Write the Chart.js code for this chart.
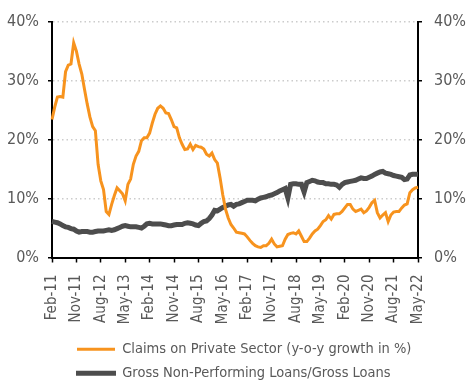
<!DOCTYPE html>
<html>
<head>
<meta charset="utf-8">
<script src="https://cdn.jsdelivr.net/npm/chart.js@4.4.1/dist/chart.umd.min.js"></script>
<style>
  html, body { margin: 0; padding: 0; background: #fff; }
</style>
</head>
<body>
<canvas id="creditChart" width="474" height="384"></canvas>
<script>
// ! monthly series, Feb-11 .. May-22

const tickLabels = [
  "Feb-11", "Nov-11", "Aug-12", "May-13", "Feb-14", "Nov-14", "Aug-15", "May-16",
  "Feb-17", "Nov-17", "Aug-18", "May-19", "Feb-20", "Nov-20", "Aug-21", "May-22",
];

const monthNames = ["Jan", "Feb", "Mar", "Apr", "May", "Jun", "Jul", "Aug", "Sep", "Oct", "Nov", "Dec"];

// claims on private sector, y-o-y growth in %
const claimsGrowth = [
  23.4, 25.5, 27.2, 27.3, 27.2, 31.5, 32.6, 32.8, 36.4, 35.0,
  32.8, 31.1, 28.5, 26.0, 23.8, 22.2, 21.5, 15.8, 13.0, 11.5,
  7.8, 7.3, 9.0, 10.5, 11.8, 11.3, 10.8, 9.6, 12.4, 13.3,
  15.8, 17.2, 18.0, 19.8, 20.3, 20.3, 21.1, 22.8, 24.3, 25.3,
  25.7, 25.3, 24.5, 24.4, 23.4, 22.2, 22.0, 20.3, 19.2, 18.3,
  18.4, 19.2, 18.3, 19.0, 18.8, 18.7, 18.4, 17.5, 17.2, 17.7,
  16.6, 16.0, 13.5, 10.6, 8.2, 6.7, 5.6, 5.0, 4.3, 4.2,
  4.1, 4.0, 3.5, 2.9, 2.4, 2.0, 1.8, 1.7, 2.0, 2.0,
  2.4, 3.1, 2.3, 1.8, 1.9, 2.0, 3.1, 3.9, 4.1, 4.2,
  4.0, 4.5, 3.6, 2.7, 2.7, 3.3, 4.0, 4.5, 4.8, 5.4,
  6.1, 6.4, 7.1, 6.5, 7.3, 7.4, 7.4, 7.8, 8.4, 9.0,
  9.0, 8.2, 7.8, 8.0, 8.2, 7.6, 7.9, 8.5, 9.3, 9.7,
  7.6, 6.7, 7.2, 7.6, 6.1, 7.2, 7.7, 7.8, 7.8, 8.4,
  8.9, 9.1, 11.0, 11.5, 11.8, 11.9,
];

// gross NPL / gross loans, %
const nplRatio = [
  6.1, 6.0, 5.9, 5.7, 5.4, 5.2, 5.1, 4.9, 4.8, 4.5,
  4.3, 4.4, 4.4, 4.4, 4.3, 4.3, 4.4, 4.5, 4.5, 4.5,
  4.6, 4.7, 4.6, 4.7, 4.9, 5.1, 5.3, 5.4, 5.3, 5.2,
  5.2, 5.2, 5.1, 5.0, 5.3, 5.7, 5.8, 5.7, 5.7, 5.7,
  5.7, 5.6, 5.5, 5.4, 5.4, 5.5, 5.6, 5.6, 5.6, 5.8,
  5.9, 5.8, 5.7, 5.5, 5.4, 5.8, 6.1, 6.2, 6.6, 7.2,
  8.0, 7.9, 8.2, 8.5, 8.7, 8.9, 9.0, 8.7, 9.0, 9.1,
  9.3, 9.5, 9.7, 9.7, 9.7, 9.6, 9.9, 10.1, 10.2, 10.3,
  10.5, 10.6, 10.8, 11.0, 11.3, 11.5, 11.7, 10.1, 12.4, 12.5,
  12.5, 12.4, 12.4, 11.1, 12.7, 12.9, 13.1, 13.0, 12.8, 12.7,
  12.7, 12.5, 12.5, 12.4, 12.4, 12.3, 11.9, 12.4, 12.7, 12.8,
  12.9, 13.0, 13.1, 13.3, 13.5, 13.4, 13.4, 13.6, 13.8, 14.1,
  14.3, 14.5, 14.6, 14.3, 14.2, 14.1, 13.9, 13.8, 13.7, 13.6,
  13.2, 13.3, 14.0, 14.1, 14.1, 14.1,
];

// one label per month, starting Feb 2011
const months = claimsGrowth.map((v, i) => {
  const m = (1 + i) % 12;
  const yy = 11 + Math.floor((1 + i) / 12);
  return monthNames[m] + "-" + yy;
});

const FONT = "'Liberation Sans Narrow', 'DejaVu Sans Condensed', sans-serif";
const TEXT = "#595959";
const ORANGE = "#F7931E";
const GREY = "#4D4D4D";

Chart.defaults.font.family = FONT;
Chart.defaults.color = TEXT;

// legend sits a bit in from the left edge and lower down
const legendOffset = {
  id: "legendOffset",
  afterLayout(chart) {
    const lg = chart.legend;
    const w = lg.right - lg.left;
    const h = lg.bottom - lg.top;
    lg.left = 67.5;
    lg.right = lg.left + w;
    lg.top = 332.5;
    lg.bottom = lg.top + h;
  },
};

const yAxis = (position, pad) => ({
  position: position,
  min: 0,
  max: 40,
  ticks: {
    stepSize: 10,
    padding: pad,
    font: { size: 16 },
    callback: (v) => v + "%",
  },
  grid: {
    color: "#cccccc",
    lineWidth: 1.5,
    drawOnChartArea: position === "left",
    tickLength: 4,
    tickColor: "#000",
    tickWidth: 1.5,
  },
  border: { color: "#000", width: 2, dash: [1.5, 3] },
});

const ctx = document.getElementById("creditChart");

new Chart(ctx, {
  type: "line",
  data: {
    labels: months,
    datasets: [
      {
        label: "Claims on Private Sector (y-o-y growth in %)",
        data: claimsGrowth,
        borderColor: ORANGE,
        backgroundColor: ORANGE,
        borderWidth: 3,
        pointRadius: 0,
        tension: 0,
      },
      {
        label: "Gross Non-Performing Loans/Gross Loans",
        data: nplRatio,
        borderColor: GREY,
        backgroundColor: GREY,
        borderWidth: 5,
        pointRadius: 0,
        tension: 0,
      },
    ],
  },
  options: {
    responsive: false,
    animation: false,
    layout: { padding: { top: 19, left: 0, right: 0, bottom: 0 } },
    scales: {
      x: {
        offset: false,
        ticks: {
          autoSkip: false,
          minRotation: 90,
          maxRotation: 90,
          padding: 12,
          font: { size: 15 },
          callback: function (value) {
            const lbl = this.getLabelForValue(value);
            return tickLabels.includes(lbl) ? lbl : "";
          },
        },
        grid: {
          drawOnChartArea: false,
          tickLength: 5,
          tickWidth: 1.5,
          tickColor: (c) => (tickLabels.includes(months[c.index]) ? "#000" : "rgba(0,0,0,0)"),
        },
        border: { color: "#000", width: 2 },
        afterFit: (s) => { s.height = 68.5; },
      },
      y: {
        ...yAxis("left", 9),
        afterFit: (s) => { s.width = 52; },
      },
      y1: {
        ...yAxis("right", 12),
        afterFit: (s) => { s.width = 56; },
      },
    },
    plugins: {
      tooltip: { enabled: false },
      legend: {
        position: "bottom",
        align: "start",
        labels: {
          font: { size: 14.5 },
          color: TEXT,
          boxWidth: 38,
          boxHeight: 3,
          padding: 9.5,
          generateLabels: (chart) =>
            chart.data.datasets.map((ds, i) => ({
              text: ds.label,
              fillStyle: ds.borderColor,
              strokeStyle: ds.borderColor,
              lineWidth: i === 0 ? 0 : 2,
              fontColor: TEXT,
              datasetIndex: i,
            })),
        },
      },
    },
  },
  plugins: [legendOffset],
});
</script>
</body>
</html>
